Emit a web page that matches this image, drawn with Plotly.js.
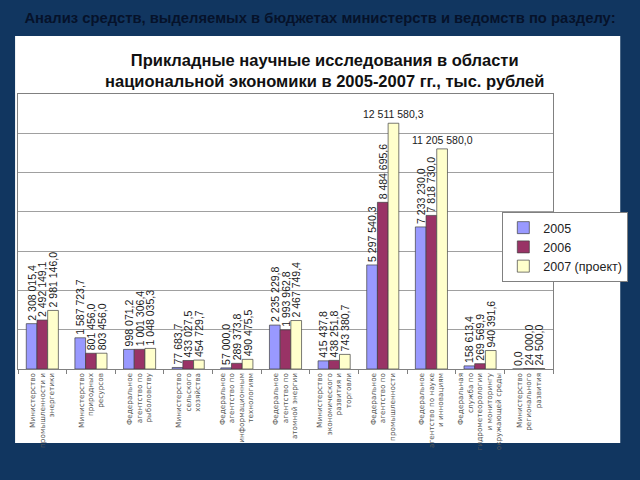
<!DOCTYPE html>
<html>
<head>
<meta charset="utf-8">
<script src="https://cdn.plot.ly/plotly-3.0.1.min.js"></script>
<style>html,body{margin:0;padding:0;background:#113660;}#chart{width:640px;height:480px;}</style>
</head>
<body>
<div id="chart"></div>
<script>
const categories = [
  "Министерство<br>промышленности и<br>энергетики",
  "Министерство<br>природных<br>ресурсов",
  "Федеральное<br>агентство по<br>рыболовству",
  "Министерство<br>сельского<br>хозяйства",
  "Федеральное<br>агентство по<br>информационным<br>технологиям",
  "Федеральное<br>агентство по<br>атомной энергии",
  "Министерство<br>экономического<br>развития и<br>торговли",
  "Федеральное<br>агентство по<br>промышленности",
  "Федеральное<br>агентство по науке<br>и инновациям",
  "Федеральная<br>служба по<br>гидрометеорологии<br>и мониторингу<br>окружающей среды",
  "Министерство<br>регионального<br>развития"
];
const series2005 = [2308015.4, 1587723.7, 998071.2, 77683.7, 57000.0, 2235229.8, 415437.8, 5297540.3, 7233230.0, 158613.4, 0.0];
const series2006 = [2492149.1, 801456.0, 1001306.4, 433027.5, 289373.8, 1993962.8, 438251.8, 8484695.6, 7818730.0, 269569.9, 24000.0];
const series2007 = [2981146.0, 803456.0, 1048035.3, 454729.7, 490475.5, 2467749.4, 743380.7, 12511580.3, 11205580.0, 940391.6, 24500.0];
const seriesNames = ["2005", "2006", "2007 (проект)"];
const horizontalLabelIdx2007 = [7, 8];

function fmt(v) {
  const p = v.toFixed(1).split('.');
  return p[0].replace(/\B(?=(\d{3})+(?!\d))/g, ' ') + ',' + p[1];
}

const colors = ['#9999FF', '#993366', '#FFFFCC'];
const allSeries = [series2005, series2006, series2007];
const labelFont = {family: 'Liberation Sans, Arial, sans-serif', size: 10.5, color: '#1a1a1a'};

const traces = allSeries.map((vals, k) => ({
  type: 'bar',
  name: seriesNames[k],
  x: categories,
  y: vals,
  text: vals.map((v, i) => (k === 2 && horizontalLabelIdx2007.includes(i)) ? '' : fmt(v)),
  textposition: 'outside',
  textangle: -90,
  constraintext: 'none',
  cliponaxis: false,
  textfont: labelFont,
  marker: {color: colors[k], line: {color: '#404040', width: 0.7}},
  hoverinfo: 'none'
}));

const annotations = horizontalLabelIdx2007.map(i => ({
  x: categories[i], y: series2007[i], xref: 'x', yref: 'y',
  text: fmt(series2007[i]), showarrow: false,
  yanchor: 'bottom', xshift: 11, yshift: 1,
  font: labelFont
}));
annotations.push({
  xref: 'paper', yref: 'paper', x: (333 - 18) / 549, y: (369 - 49) / 275,
  xanchor: 'center', yanchor: 'top', showarrow: false,
  text: '<b>Прикладные научные исследования в области<br>национальной экономики в 2005-2007 гг., тыс. рублей</b>',
  font: {family: 'Liberation Sans, Arial, sans-serif', size: 16.5, color: '#111111'}
});

const layout = {
  width: 640, height: 480,
  paper_bgcolor: '#113660',
  plot_bgcolor: '#ffffff',
  font: {color: '#07142a'},
  margin: {l: 18, r: 73, t: 94, b: 111, pad: 0},
  barmode: 'group',
  bargap: 0.34,
  bargroupgap: 0,
  title: {
    text: '<b>Анализ средств, выделяемых в бюджетах министерств и ведомств по разделу:</b>',
    x: 0.5, xanchor: 'center', xref: 'container',
    y: 1 - 18 / 480, yanchor: 'middle', yref: 'container',
    font: {family: 'Liberation Sans, Arial, sans-serif', size: 14.8, color: '#06122a'}
  },
  xaxis: {
    type: 'category',
    tickangle: -90,
    ticks: 'outside', tickson: 'boundaries', ticklen: 4, tickcolor: '#808080',
    tickfont: {family: 'DejaVu Sans, sans-serif', size: 7.3, color: '#555'},
    showline: true, linecolor: '#808080', mirror: true, linewidth: 1,
    showgrid: false, fixedrange: true
  },
  yaxis: {
    range: [0, 14000000], dtick: 2000000,
    showticklabels: false, ticks: '',
    showgrid: true, gridcolor: '#a0a0a0', gridwidth: 1,
    showline: true, linecolor: '#808080', mirror: true,
    zeroline: true, zerolinecolor: '#808080', fixedrange: true
  },
  legend: {
    x: (515 - 18) / 549, xanchor: 'left', y: (369 - 212) / 275, yanchor: 'top',
    bgcolor: '#ffffff', bordercolor: '#808080', borderwidth: 1,
    itemwidth: 30,
    font: {family: 'Liberation Sans, Arial, sans-serif', size: 12.5, color: '#222'},
    traceorder: 'normal'
  },
  shapes: [{
    type: 'rect', xref: 'paper', yref: 'paper', layer: 'below',
    x0: (15 - 18) / 549, x1: (636 - 18) / 549,
    y0: (369 - 443) / 275, y1: (369 - 36) / 275,
    fillcolor: '#ffffff', line: {width: 0}
  }],
  annotations: annotations,
  showlegend: true
};

Plotly.newPlot('chart', traces, layout, {displayModeBar: false, staticPlot: true});
</script>
</body>
</html>
